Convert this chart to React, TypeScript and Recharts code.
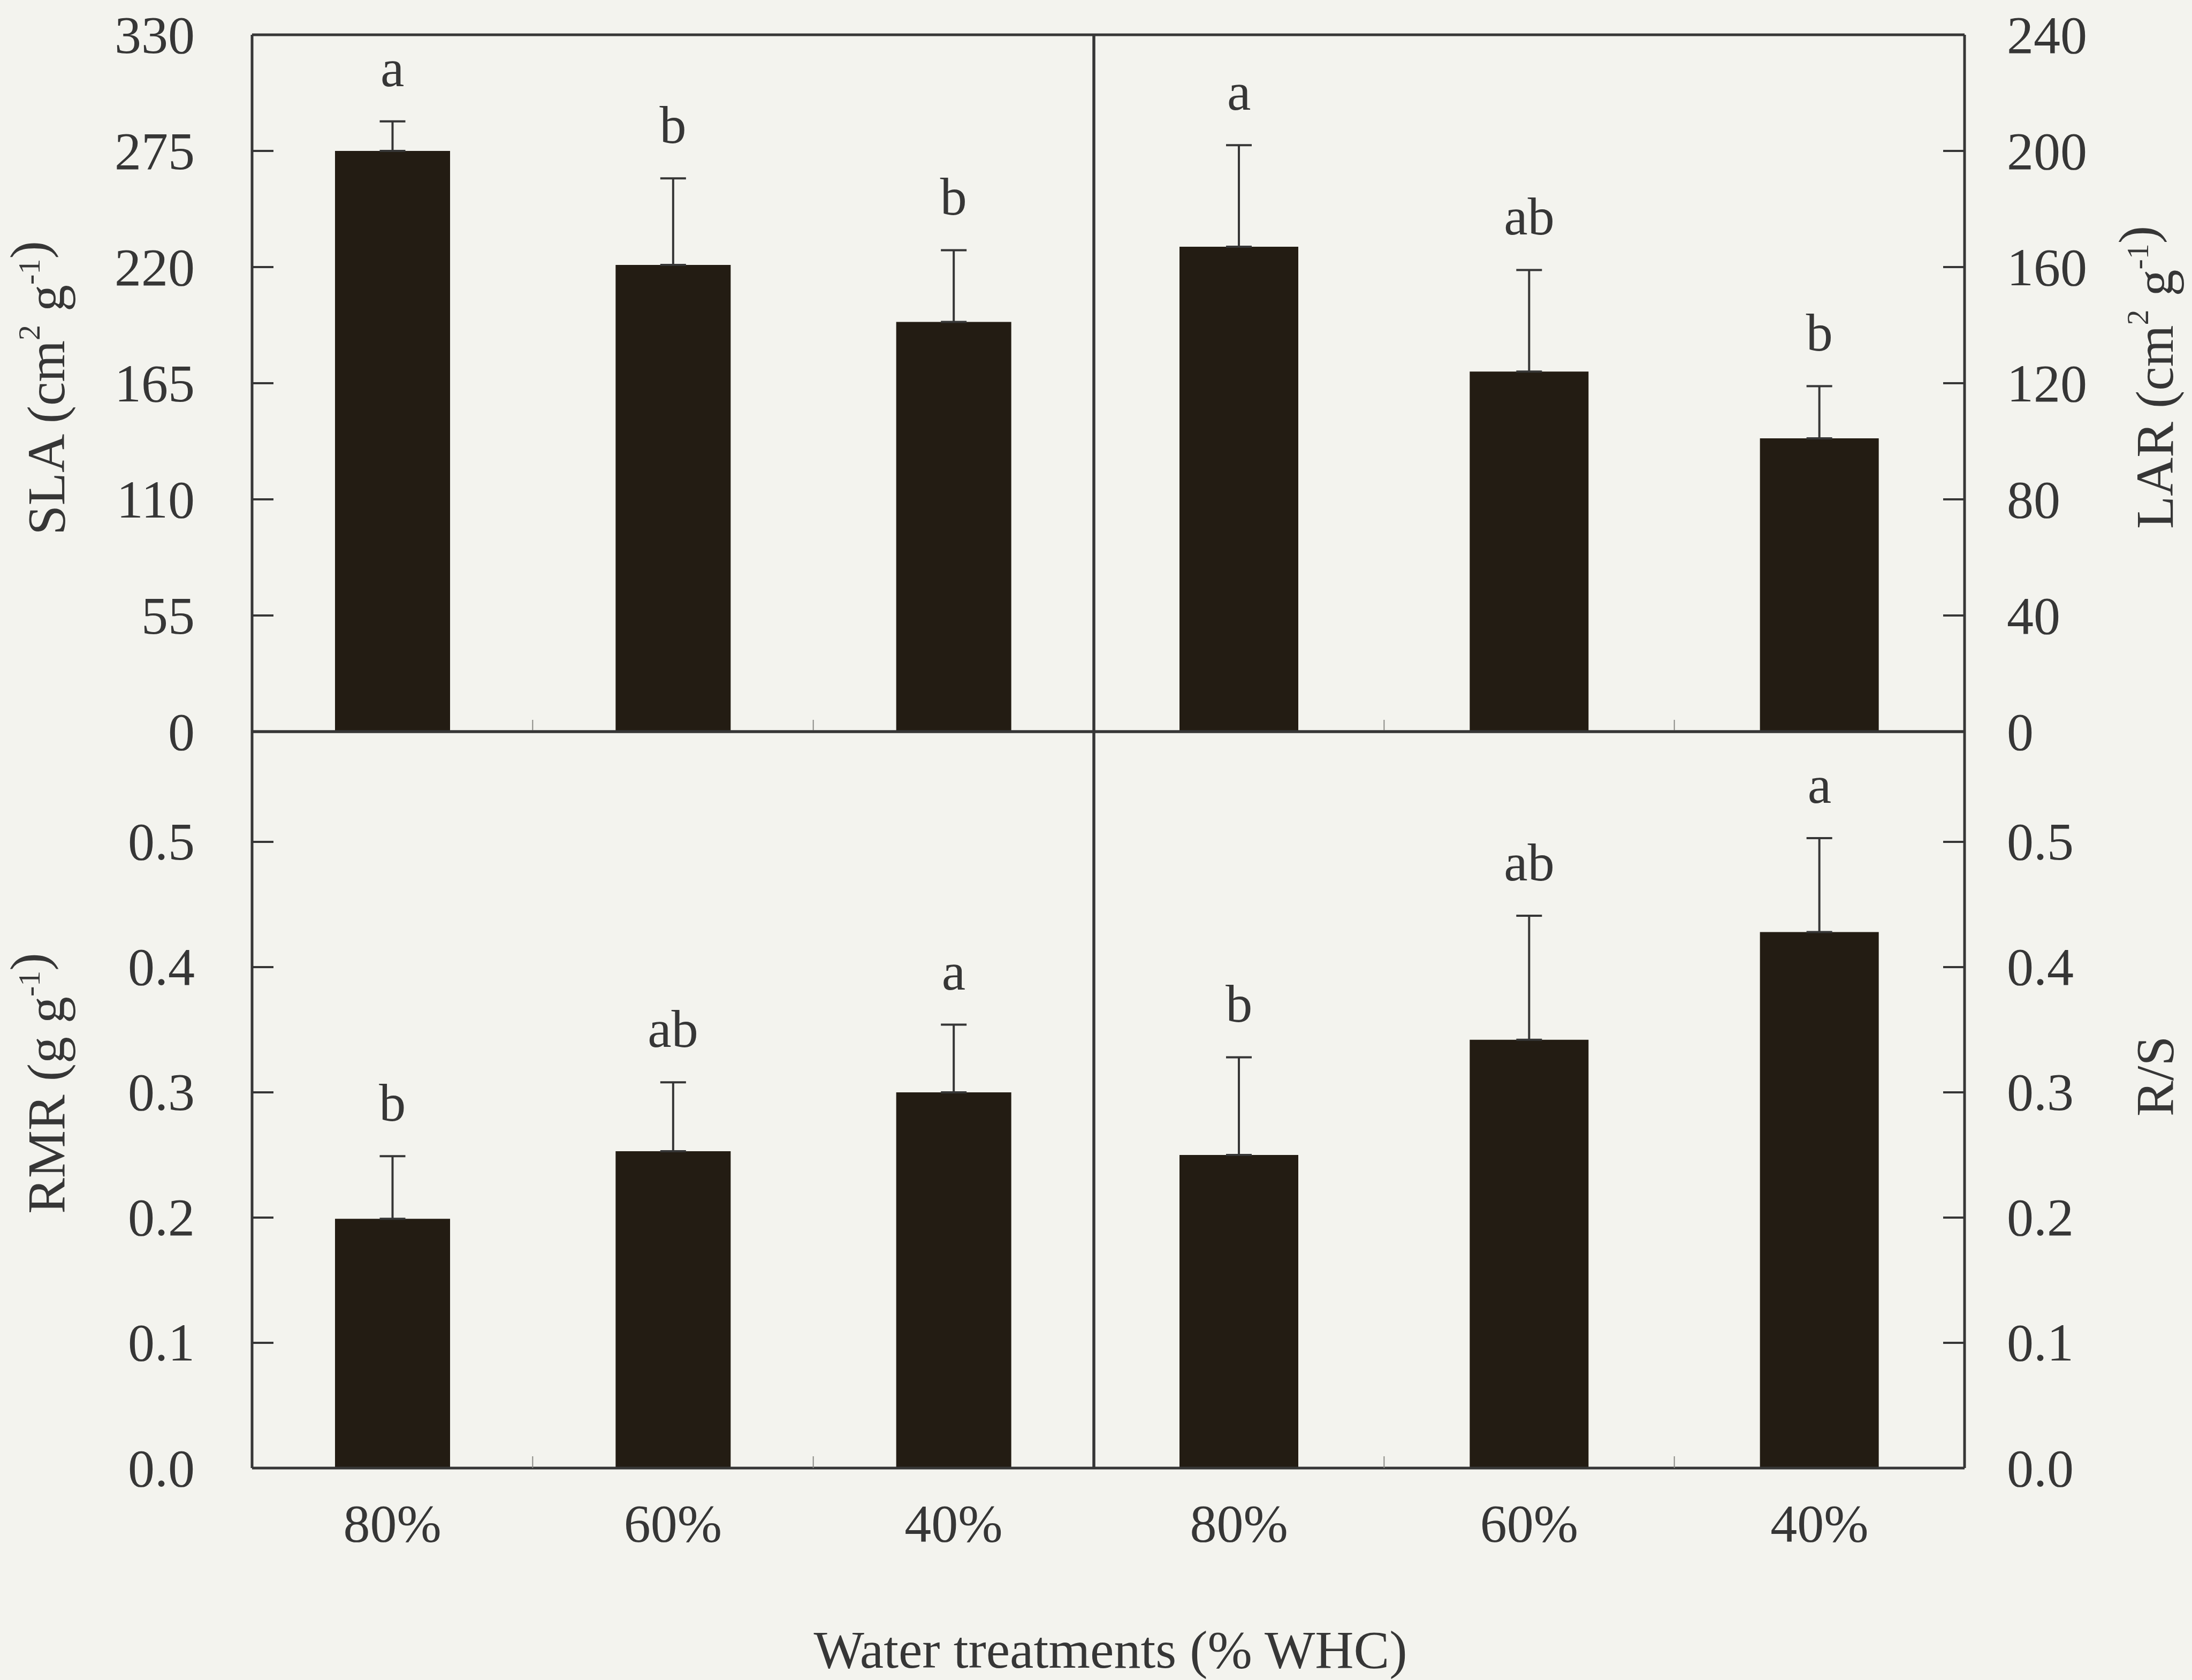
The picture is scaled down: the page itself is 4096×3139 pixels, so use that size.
import React from "react";
import { ComposedChart, Bar, ErrorBar, Scatter, XAxis, YAxis } from "recharts";

// treatments, left to right in each panel
const categories = ["80%", "60%", "40%"];

// SLA (cm2 g-1), top left
const slaMean = [275, 221, 194];
const slaSE = [14, 41, 34];
const slaLetters = ["a", "b", "b"];

// LAR (cm2 g-1), top right
const larMean = [167, 124, 101];
const larSE = [35, 35, 18];
const larLetters = ["a", "ab", "b"];

// RMR (g g-1), bottom left
const rmrMean = [0.199, 0.253, 0.3];
const rmrSE = [0.05, 0.055, 0.054];
const rmrLetters = ["b", "ab", "a"];

// R/S, bottom right
const rsMean = [0.25, 0.342, 0.428];
const rsSE = [0.078, 0.099, 0.075];
const rsLetters = ["b", "ab", "a"];

const slaTicks = [0, 55, 110, 165, 220, 275, 330];
const larTicks = [0, 40, 80, 120, 160, 200, 240];
const ratioTicks = [0, 0.1, 0.2, 0.3, 0.4, 0.5];

const W = 4096;
const H = 3139;
// frame edges
const X0 = 471;
const XM = 2044;
const X1 = 3671;
const Y0 = 65;
const YM = 1367;
const Y1 = 2743;

const FONT = "'Liberation Serif', 'Times New Roman', serif";
const FS = 100;
const INK = "#363636";
const BAR = "#231c13";
const PAPER = "#f3f3ee";
const TICK = 40;
const LEFT_TEXT = 364;
const RIGHT_TEXT = 3750;
const XLABEL_Y = 2846;

// superscript, then back down to the baseline
const sup = (s: string, after = "") => (
  <>
    <tspan dy={-32} fontSize={58}>
      {s}
    </tspan>
    <tspan dy={32}>{after}</tspan>
  </>
);

const yTitle = (x: number, y: number, body: React.ReactNode) => () =>
  (
    <text
      x={x}
      y={y}
      transform={`rotate(-90 ${x} ${y})`}
      textAnchor="middle"
      dominantBaseline="central"
      fontFamily={FONT}
      fontSize={FS}
      fill={INK}
    >
      {body}
    </text>
  );

type Props = {
  mean: number[];
  se: number[];
  letters: string[];
  domain: [number, number];
  ticks: number[];
  fmt: (v: number) => string;
  left: number;
  right: number;
  top: number;
  bottom: number;
  side: "left" | "right";
  showX: boolean;
  title: () => React.ReactElement;
  xTitle?: () => React.ReactElement;
};

const Panel = ({
  mean,
  se,
  letters,
  domain,
  ticks,
  fmt,
  left,
  right,
  top,
  bottom,
  side,
  showX,
  title,
  xTitle,
}: Props) => {
  const rows = categories.map((name, i) => ({
    name,
    v: mean[i],
    e: [0, se[i]],
    top: mean[i] + se[i],
    letter: letters[i],
  }));
  const band = (right - left) / categories.length;
  const axisX = side === "left" ? left : right;
  const dir = side === "left" ? 1 : -1;

  const yTick = (p: any) => (
    <g>
      <line
        x1={axisX}
        x2={axisX + dir * TICK}
        y1={p.y}
        y2={p.y}
        stroke={INK}
        strokeWidth={4}
      />
      <text
        x={side === "left" ? LEFT_TEXT : RIGHT_TEXT}
        y={p.y}
        textAnchor={side === "left" ? "end" : "start"}
        dominantBaseline="central"
        fontFamily={FONT}
        fontSize={FS}
        fill={INK}
      >
        {fmt(p.payload.value)}
      </text>
    </g>
  );

  const xTick = (p: any) => (
    <g>
      {p.index < categories.length - 1 && (
        <line
          x1={p.x + band / 2}
          x2={p.x + band / 2}
          y1={bottom}
          y2={bottom - 22}
          stroke="#8a8a86"
          strokeWidth={2}
        />
      )}
      {showX && (
        <text
          x={p.x}
          y={XLABEL_Y}
          textAnchor="middle"
          dominantBaseline="central"
          fontFamily={FONT}
          fontSize={FS}
          fill={INK}
        >
          {p.payload.value}
        </text>
      )}
    </g>
  );

  const letterShape = (p: any) => (
    <text
      x={p.cx}
      y={p.cy - 66}
      textAnchor="middle"
      fontFamily={FONT}
      fontSize={FS}
      fill={INK}
    >
      {p.payload.letter}
    </text>
  );

  const frame = { stroke: INK, strokeWidth: 5 };

  // axes are 1px thick, so margins stop 1px short of the frame
  return (
    <div style={{ position: "absolute", left: 0, top: 0 }}>
      <ComposedChart
        width={W}
        height={H}
        data={rows}
        margin={{
          top: top - 1,
          left: left - 1,
          right: W - right - 1,
          bottom: H - bottom - 1,
        }}
      >
        <XAxis
          dataKey="name"
          height={1}
          axisLine={frame}
          tickLine={false}
          tick={xTick}
          interval={0}
          label={xTitle ? { content: xTitle } : undefined}
        />
        <XAxis
          xAxisId="top"
          dataKey="name"
          orientation="top"
          height={1}
          axisLine={frame}
          tickLine={false}
          tick={false}
        />
        <YAxis
          yAxisId="v"
          orientation={side}
          width={1}
          domain={domain}
          ticks={ticks}
          allowDataOverflow
          interval={0}
          axisLine={frame}
          tickLine={false}
          tick={yTick}
          label={{ content: title }}
        />
        <YAxis
          yAxisId="o"
          orientation={side === "left" ? "right" : "left"}
          width={1}
          domain={[0, 1]}
          axisLine={frame}
          tickLine={false}
          tick={false}
        />
        <Bar
          yAxisId="v"
          dataKey="v"
          fill={BAR}
          barSize={Math.round(band * 0.41)}
          isAnimationActive={false}
        >
          <ErrorBar
            dataKey="e"
            direction="y"
            width={24}
            stroke={INK}
            strokeWidth={4}
            isAnimationActive={false}
          />
        </Bar>
        <Scatter
          yAxisId="v"
          dataKey="top"
          shape={letterShape}
          isAnimationActive={false}
        />
      </ComposedChart>
    </div>
  );
};

const intFmt = (v: number) => String(v);
const decFmt = (v: number) => v.toFixed(1);

const xTitle = () => (
  <text
    x={2075}
    y={3082}
    textAnchor="middle"
    dominantBaseline="central"
    fontFamily={FONT}
    fontSize={FS}
    fill={INK}
  >
    Water treatments (% WHC)
  </text>
);

export default function App() {
  return (
    <div
      style={{
        position: "absolute",
        left: 0,
        top: 0,
        width: W,
        height: H,
        background: PAPER,
        overflow: "hidden",
      }}
    >
      <Panel
        mean={slaMean}
        se={slaSE}
        letters={slaLetters}
        domain={[0, 330]}
        ticks={slaTicks}
        fmt={intFmt}
        left={X0}
        right={XM}
        top={Y0}
        bottom={YM}
        side="left"
        showX={false}
        title={yTitle(86, 725, <>SLA (cm{sup("2", " ")}g{sup("-1")})</>)}
      />
      <Panel
        mean={larMean}
        se={larSE}
        letters={larLetters}
        domain={[0, 240]}
        ticks={larTicks}
        fmt={intFmt}
        left={XM}
        right={X1}
        top={Y0}
        bottom={YM}
        side="right"
        showX={false}
        title={yTitle(4026, 705, <>LAR (cm{sup("2", " ")}g{sup("-1")})</>)}
      />
      <Panel
        mean={rmrMean}
        se={rmrSE}
        letters={rmrLetters}
        domain={[0, 0.588]}
        ticks={ratioTicks}
        fmt={decFmt}
        left={X0}
        right={XM}
        top={YM}
        bottom={Y1}
        side="left"
        showX
        title={yTitle(86, 2024, <>RMR (g g{sup("-1")})</>)}
        xTitle={xTitle}
      />
      <Panel
        mean={rsMean}
        se={rsSE}
        letters={rsLetters}
        domain={[0, 0.588]}
        ticks={ratioTicks}
        fmt={decFmt}
        left={XM}
        right={X1}
        top={YM}
        bottom={Y1}
        side="right"
        showX
        title={yTitle(4026, 2011, <>R/S</>)}
      />
    </div>
  );
}
